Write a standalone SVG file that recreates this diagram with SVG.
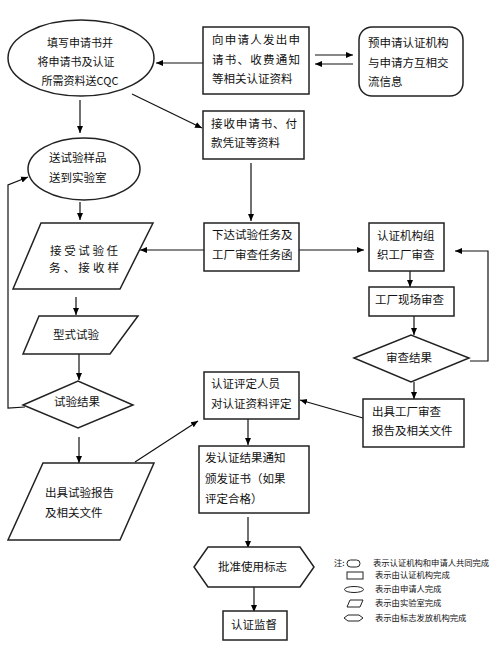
<svg xmlns="http://www.w3.org/2000/svg" width="500" height="646" viewBox="0 0 500 646">
<defs>
<marker id="ah" markerWidth="8" markerHeight="8" refX="7" refY="4" orient="auto" markerUnits="userSpaceOnUse">
<path d="M0,1 L7,4 L0,7 Z" fill="#000"/>
</marker>
<style>
.s{fill:#fff;stroke:#222;stroke-width:1.5}
.t{font-family:"Noto Sans CJK SC","Noto Sans CJK JP",sans-serif;font-size:11.5px;fill:#111}
.e{font-size:11px}
.l{font-family:"Noto Sans CJK SC",sans-serif;font-size:8.3px;fill:#111}
.ls{fill:#fff;stroke:#222;stroke-width:1}
.c{fill:none;stroke:#111;stroke-width:1.2}
.a{marker-end:url(#ah)}
</style>
</defs>
<rect width="500" height="646" fill="#fff"/>

<g id="connectors">
<line class="c a" x1="203" y1="63" x2="156" y2="63"/>
<line class="c a" x1="315" y1="55" x2="353" y2="55"/>
<line class="c a" x1="353" y1="64" x2="315" y2="64"/>
<line class="c a" x1="132" y1="94" x2="202" y2="128"/>
<line class="c a" x1="80" y1="100" x2="80" y2="133"/>
<line class="c a" x1="251" y1="163" x2="251" y2="221"/>
<line class="c a" x1="80" y1="202" x2="80" y2="220"/>
<line class="c a" x1="204" y1="250" x2="140" y2="250"/>
<line class="c a" x1="299" y1="250" x2="364" y2="250"/>
<line class="c a" x1="410" y1="271" x2="410" y2="287"/>
<line class="c a" x1="414" y1="316" x2="414" y2="335"/>
<polyline class="c a" points="470,361 488,361 488,251 455,251"/>
<line class="c a" x1="414" y1="382" x2="414" y2="399"/>
<line class="c a" x1="363" y1="418" x2="300" y2="400"/>
<line class="c a" x1="76" y1="297" x2="76" y2="315"/>
<line class="c a" x1="79" y1="354" x2="79" y2="380"/>
<polyline class="c a" points="25,407 8,408 8,185 28,177"/>
<line class="c a" x1="79" y1="437" x2="79" y2="463"/>
<line class="c a" x1="135" y1="462" x2="198" y2="421"/>
<line class="c a" x1="248" y1="419" x2="248" y2="445"/>
<line class="c a" x1="248" y1="517" x2="248" y2="548"/>
<line class="c a" x1="254" y1="587" x2="254" y2="612"/>
</g>

<g id="n-fill">
<ellipse class="s" cx="81" cy="58" rx="73" ry="38"/>
<text class="t e" x="80" y="47" text-anchor="middle">填写申请书并</text>
<text class="t e" x="76" y="66" text-anchor="middle">将申请书及认证</text>
<text class="t e" x="80" y="85" text-anchor="middle">所需资料送CQC</text>
</g>

<g id="n-issue">
<rect class="s" x="203" y="27" width="106" height="67"/>
<text class="t" x="212" y="44" textLength="88" lengthAdjust="spacing">向申请人发出申</text>
<text class="t" x="212" y="64" textLength="88" lengthAdjust="spacing">请书、收费通知</text>
<text class="t" x="212" y="83">等相关认证资料</text>
</g>

<g id="n-pre">
<rect class="s" x="359" y="27" width="104" height="69" rx="13"/>
<text class="t" x="368" y="47">预申请认证机构</text>
<text class="t" x="368" y="67">与申请方互相交</text>
<text class="t" x="368" y="86">流信息</text>
</g>

<g id="n-receive">
<rect class="s" x="203" y="111" width="101" height="48"/>
<text class="t" x="211" y="128" textLength="86" lengthAdjust="spacing">接收申请书、付</text>
<text class="t" x="211" y="147">款凭证等资料</text>
</g>

<g id="n-send">
<ellipse class="s" cx="84" cy="169" rx="56" ry="31"/>
<text class="t" x="49" y="162">送试验样品</text>
<text class="t" x="49" y="182">送到实验室</text>
</g>

<g id="n-task">
<rect class="s" x="204" y="223" width="95" height="48"/>
<text class="t" x="212" y="239">下达试验任务及</text>
<text class="t" x="212" y="259">工厂审查任务函</text>
</g>

<g id="n-accept">
<polygon class="s" points="41,223 153,223 120,289 13,289"/>
<text class="t" x="50" y="255" textLength="68" lengthAdjust="spacing">接受试验任</text>
<text class="t" x="49" y="272" textLength="70" lengthAdjust="spacing">务、接收样</text>
</g>

<g id="n-org">
<rect class="s" x="369" y="223" width="75" height="48"/>
<text class="t" x="377" y="240">认证机构组</text>
<text class="t" x="377" y="259">织工厂审查</text>
</g>

<g id="n-site">
<rect class="s" x="369" y="287" width="85" height="29"/>
<text class="t" x="375" y="304">工厂现场审查</text>
</g>

<g id="n-audit-result">
<polygon class="s" points="354,358 411,335 469,358 411,382"/>
<text class="t" x="409" y="362" text-anchor="middle">审查结果</text>
</g>

<g id="n-type">
<polygon class="s" points="39,316 138,316 110,354 23,354"/>
<text class="t" x="53" y="339">型式试验</text>
</g>

<g id="n-test-result">
<polygon class="s" points="23,405 78,381 133,405 78,428"/>
<text class="t" x="54" y="406">试验结果</text>
</g>

<g id="n-eval">
<rect class="s" x="204" y="372" width="95" height="47"/>
<text class="t" x="211" y="388">认证评定人员</text>
<text class="t" x="211" y="408">对认证资料评定</text>
</g>

<g id="n-audit-report">
<rect class="s" x="363" y="399" width="101" height="48"/>
<text class="t" x="372" y="416">出具工厂审查</text>
<text class="t" x="372" y="435">报告及相关文件</text>
</g>

<g id="n-test-report">
<polygon class="s" points="43,463 154,463 120,540 8,540"/>
<text class="t" x="45" y="497">出具试验报告</text>
<text class="t" x="45" y="517">及相关文件</text>
</g>

<g id="n-notify">
<rect class="s" x="199" y="446" width="110" height="67"/>
<text class="t" x="205" y="462">发认证结果通知</text>
<text class="t" x="205" y="483">颁发证书（如果</text>
<text class="t" x="205" y="503">评定合格）</text>
</g>

<g id="n-mark">
<polygon class="s" points="194,567 208,547 300,547 314,567 300,587 208,587"/>
<text class="t" x="218" y="571">批准使用标志</text>
</g>

<g id="n-supervise">
<rect class="s" x="223" y="611" width="64" height="29"/>
<text class="t" x="231" y="629">认证监督</text>
</g>

<g id="legend">
<text class="l" x="334" y="566">注:</text>
<rect class="ls" x="347" y="560" width="13" height="7" rx="3.5"/>
<text class="l" x="373" y="566">表示认证机构和申请人共同完成</text>
<rect class="ls" x="347" y="572" width="16" height="7"/>
<text class="l" x="375" y="578">表示由认证机构完成</text>
<ellipse class="ls" cx="354" cy="589.5" rx="9.5" ry="3"/>
<text class="l" x="375" y="592">表示由申请人完成</text>
<polygon class="ls" points="350,600 363,600 360,607 347,607"/>
<text class="l" x="375" y="606">表示由实验室完成</text>
<polygon class="ls" points="344,618 348,615 359,615 363,618 359,621 348,621"/>
<text class="l" x="375" y="621">表示由标志发放机构完成</text>
</g>
</svg>
